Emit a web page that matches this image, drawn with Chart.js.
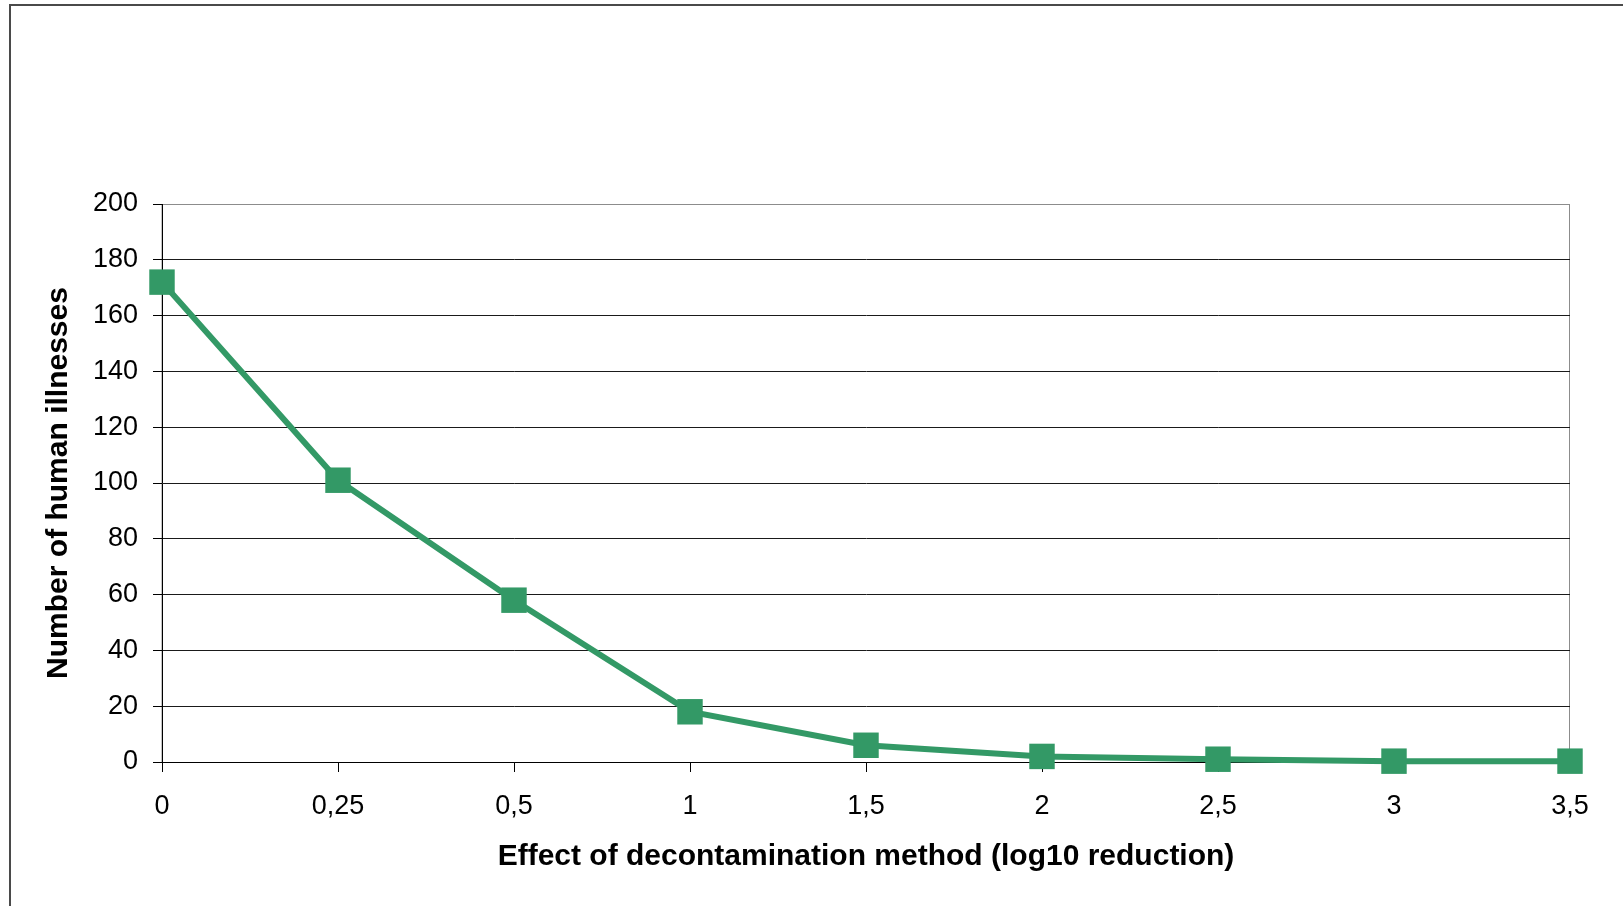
<!DOCTYPE html>
<html>
<head>
<meta charset="utf-8">
<script src="https://cdn.jsdelivr.net/npm/chart.js@4/dist/chart.umd.min.js"></script>
<style>
  html, body { margin: 0; padding: 0; background: #ffffff; }
  #wrap { width: 1623px; height: 906px; }
</style>
</head>
<body>
<div id="wrap"><canvas id="chart" width="1623" height="906"></canvas></div>
<script>
// Log10 reduction steps of the decontamination method
const reductionLabels = ['0', '0,25', '0,5', '1', '1,5', '2', '2,5', '3', '3,5'];
// Estimated number of human illnesses at each reduction step
const illnesses = [172, 101, 58, 18, 6, 2, 1, 0.3, 0.3];
// Value-axis tick range
const yMin = 0;
const yMax = 200;
const yStep = 20;

const seriesColor = '#339966';
const fontFamily = '"Liberation Sans", Arial, Helvetica, sans-serif';

// Outer frame and the grey plot-area border
const framePlugin = {
  id: 'frame',
  beforeDraw(chart) {
    const { ctx, chartArea } = chart;
    ctx.save();
    ctx.fillStyle = '#ffffff';
    ctx.fillRect(0, 0, chart.width, chart.height);
    ctx.strokeStyle = '#4a4a4a';
    ctx.lineWidth = 2;
    ctx.beginPath();
    ctx.moveTo(10, chart.height + 5);
    ctx.lineTo(10, 5);
    ctx.lineTo(chart.width + 5, 5);
    ctx.stroke();
    ctx.strokeStyle = '#8c8c8c';
    ctx.lineWidth = 1;
    ctx.strokeRect(chartArea.left, chartArea.top + 0.5, chartArea.right - chartArea.left - 0.5, chartArea.bottom - chartArea.top);
    ctx.restore();
  }
};

new Chart(document.getElementById('chart'), {
  type: 'line',
  data: {
    labels: reductionLabels,
    datasets: [{
      data: illnesses,
      borderColor: seriesColor,
      backgroundColor: seriesColor,
      borderWidth: 6,
      tension: 0,
      pointStyle: 'rect',
      pointRadius: 18,
      pointBorderWidth: 0,
      pointBackgroundColor: seriesColor,
      pointHoverRadius: 18,
      clip: false
    }]
  },
  options: {
    responsive: false,
    animation: false,
    events: [],
    layout: { padding: { left: 0, top: 204, right: 53, bottom: 0 } },
    plugins: {
      legend: { display: false },
      tooltip: { enabled: false }
    },
    scales: {
      x: {
        type: 'category',
        offset: false,
        afterFit(scale) { scale.height = 144; },
        grid: {
          display: true,
          drawOnChartArea: false,
          drawTicks: true,
          tickLength: 10,
          tickColor: '#000000',
          tickWidth: 1
        },
        border: { display: true, color: '#000000', width: 1 },
        ticks: {
          color: '#000000',
          padding: 18,
          autoSkip: false,
          maxRotation: 0,
          font: { family: fontFamily, size: 27 }
        },
        title: {
          display: true,
          text: 'Effect of decontamination method (log10 reduction)',
          color: '#000000',
          padding: { top: 0, bottom: 31 },
          font: { family: fontFamily, size: 30, weight: 'bold' }
        }
      },
      y: {
        min: yMin,
        max: yMax,
        afterFit(scale) { scale.width = 162; },
        grid: {
          color: (c) => (c.tick && c.tick.value === yMax ? '#8c8c8c' : '#1a1a1a'),
          lineWidth: 1,
          drawTicks: true,
          tickLength: 9,
          tickColor: '#000000'
        },
        border: { display: true, color: '#000000', width: 1 },
        ticks: {
          stepSize: yStep,
          color: '#000000',
          padding: 15,
          font: { family: fontFamily, size: 27 }
        },
        title: {
          display: true,
          text: 'Number of human illnesses',
          color: '#000000',
          padding: { top: 41, bottom: 0 },
          font: { family: fontFamily, size: 30, weight: 'bold' }
        }
      }
    }
  },
  plugins: [framePlugin]
});
</script>
</body>
</html>
